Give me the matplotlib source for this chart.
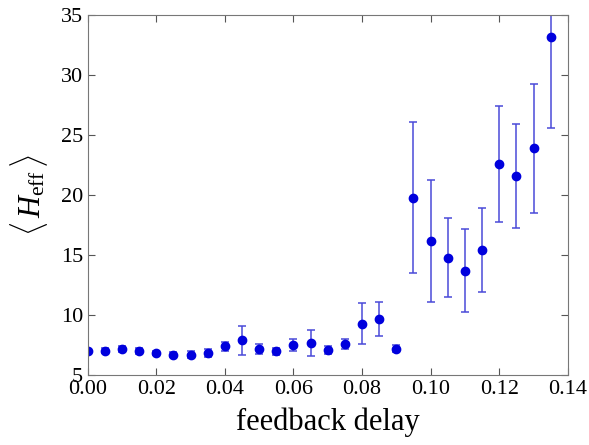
import matplotlib.pyplot as plt
import numpy as np

plt.rcParams['font.family'] = ['Liberation Serif', 'DejaVu Serif']
plt.rcParams['mathtext.fontset'] = 'custom'
plt.rcParams['mathtext.rm'] = 'Liberation Serif'
plt.rcParams['mathtext.it'] = 'Liberation Serif:italic'

delay = [0.000, 0.005, 0.010, 0.015, 0.020, 0.025, 0.030, 0.035, 0.040, 0.045,
         0.050, 0.055, 0.060, 0.065, 0.070, 0.075, 0.080, 0.085, 0.090, 0.095,
         0.100, 0.105, 0.110, 0.115, 0.120, 0.125, 0.130, 0.135]
h_eff = [7.0, 7.05, 7.15, 7.0, 6.85, 6.7, 6.7, 6.85, 7.4, 7.9,
         7.2, 7.0, 7.5, 7.7, 7.1, 7.6, 9.3, 9.7, 7.2, 19.8,
         16.2, 14.8, 13.7, 15.4, 22.6, 21.6, 23.9, 33.2]
err = [0.2, 0.2, 0.25, 0.25, 0.2, 0.2, 0.3, 0.3, 0.35, 1.2,
       0.4, 0.3, 0.5, 1.1, 0.3, 0.45, 1.7, 1.4, 0.3, 6.3,
       5.1, 3.3, 3.45, 3.5, 4.8, 4.3, 5.4, 7.6]

fig = plt.figure(figsize=(5.89, 4.45), dpi=100)
ax = fig.add_axes([0.149, 0.157, 0.815, 0.809])

ax.errorbar(delay, h_eff, yerr=err, fmt='o', color='#0000dd', markersize=6,
            ecolor='#4a4ad8', elinewidth=1.1, capsize=3, capthick=1.1)

ax.set_xlim(0, 0.14)
ax.set_ylim(5, 35)
ax.set_xticks(np.arange(0, 0.141, 0.02))
ax.set_yticks(np.arange(5, 36, 5))
ax.xaxis.set_major_formatter(plt.FormatStrFormatter('%.2f'))
ax.tick_params(direction='in', top=True, right=True, labelsize=16, length=5,
               color='#555555')
for s in ax.spines.values():
    s.set_color('#777777')

ax.set_xlabel('feedback delay', fontsize=22, labelpad=6)
ax.set_ylabel(r'$\langle\, H_{\mathrm{eff}}\, \rangle$', fontsize=22, labelpad=8)

fig.savefig('out.png')
